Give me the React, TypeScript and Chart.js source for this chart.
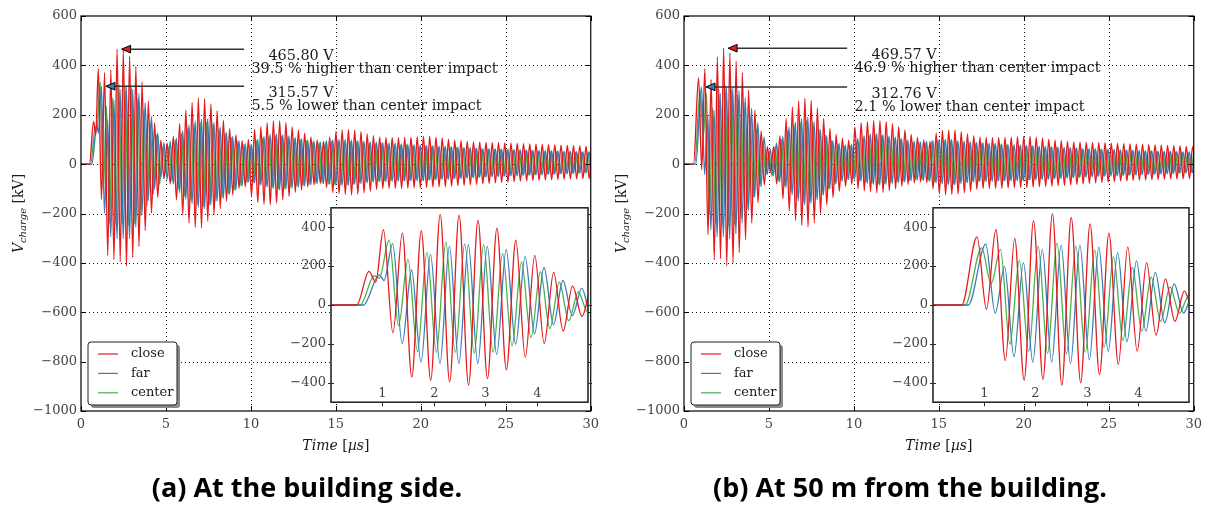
import React, { useEffect, useRef } from "react";
import { Chart, registerables } from "chart.js";
Chart.register(...registerables);

// ---------- axes / ticks ----------
const MAIN_X_TICKS = [0, 5, 10, 15, 20, 25, 30];
const MAIN_Y_TICKS = [-1000, -800, -600, -400, -200, 0, 200, 400, 600];
const INSET_X_TICKS = [1, 2, 3, 4];
const INSET_Y_TICKS = [-400, -200, 0, 200, 400];

const SERIES_LABELS = ["close", "far", "center"];
const SERIES_COLORS = ["#e41a1c", "#377eb8", "#4daf4a"];

// spacing between successive extrema (peak -> trough) in µs
const HALF = 0.184;

// ---------- panel (a): at the building side ----------
const closeA_pre = [[0, 0], [0.5, 0], [0.74, 173], [0.87, 118]];
const closeA_start = 1.02;
const closeA_ext = [387,-143,370,-370,381,-387,466,-395,462,-412,437,-378,395,-333,333,-269,255,-198,168,-134,97,-59,
  85,-80,112,-145,165,-205,218,-240,250,-256,267,-258,265,-232,245,-205,215,-180,178,-150,145,-125,118,-98,95,-92,100,-130,140,-155,152,-163,168,-165,176,-158,176,-145,168,-130,152,-114,138,-105,125,-92,110,-84,98,-78,92,-95,110,-115,132,-119,138,-122,140,-125];

const farA_pre = [[0, 0], [0.63, 0], [0.94, 155], [1.03, 126]];
const farA_start = 1.2;
const farA_ext = [316,-198,180,-294,260,-302,302,-302,311,-302,302,-255,286,-202,249,-148,193,-101,126,-54,87,
  -62,92,-80,105,-115,135,-142,160,-160,175,-174,182,-180,184,-166,170,-150,150,-138,128,-122,112,-105,95,-88,82,-72,80,-76,100,-85,112,-92,120,-98,122,-104,119,-102,115,-97,108,-93,103,-88,98,-84,94,-79,90,-79,94,-82,98,-85,100,-86,99,-85,97,-82];

const centerA_pre = [[0, 0], [0.57, 0], [0.84, 150], [0.94, 138]];
const centerA_start = 1.13;
const centerA_ext = [334,-106,235,-240,269,-244,323,-244,314,-249,311,-244,266,-210,222,-168,171,-121,118,-81,67,-37,
  72,-68,98,-100,125,-130,148,-150,162,-165,170,-172,172,-165,162,-150,145,-135,125,-120,108,-104,92,-88,80,-74,76,-74,95,-82,106,-90,113,-96,116,-100,114,-99,110,-95,104,-90,99,-86,94,-82,89,-78,86,-77,89,-80,93,-83,95,-84,95,-83,93,-80];

// ---------- panel (b): at 50 m from the building ----------
const closeB_pre = [[0, 0], [0.56, 0]];
const closeB_start = 0.86;
const closeB_ext = [350,-22,387,-286,343,-387,434,-383,470,-412,450,-400,417,-358,370,-306,299,-239,218,-156,134,-84,71,-34,
  70,-80,115,-140,185,-190,232,-228,256,-248,266,-254,258,-238,228,-200,185,-165,145,-135,120,-110,105,-90,97,-82,150,-100,168,-108,172,-112,176,-116,176,-114,172,-108,164,-100,152,-90,138,-82,120,-76,108,-72,98,-75,92,-100,125,-120,136,-124,138,-122];

const farB_pre = [[0, 0], [0.69, 0]];
const farB_start = 1.03;
const farB_ext = [313,-42,197,-266,218,-294,286,-294,308,-302,308,-282,297,-239,269,-188,227,-134,168,-92,109,-42,
  60,-45,85,-72,112,-95,150,-125,170,-150,184,-165,190,-160,172,-145,140,-125,115,-100,95,-80,84,-68,78,-62,80,-60,104,-70,115,-78,122,-82,124,-85,119,-82,114,-79,110,-75,104,-72,98,-68,93,-65,90,-66,92,-70,96,-76,100,-80,101,-83,100,-84];

const centerB_pre = [[0, 0], [0.63, 0]];
const centerB_start = 0.95;
const centerB_ext = [294,110,286,-202,230,-239,303,-249,320,-252,303,-244,282,-218,249,-182,193,-134,143,-84,92,-42,50,
  -50,72,-68,100,-88,135,-115,158,-138,172,-155,178,-154,170,-142,145,-122,118,-100,95,-82,82,-68,74,-60,74,-58,92,-66,106,-74,114,-78,117,-80,115,-79,110,-76,104,-72,99,-69,94,-66,89,-63,86,-63,87,-66,91,-72,95,-76,96,-79,95,-80];

// ---------- common tails (16 µs – 30 µs, nearly identical in both panels) ----------
const close_tail = [138,-121,131,-116,122,-110,115,-102,110,-99,108,-98,108,-98,108,-98,108,-97,109,-96,111,-95,113,-95,112,-93,109,-92,106,-91,101,-89,97,-87,95,-86,92,-84,90,-82,89,-80,88,-78,87,-76,87,-74,86,-73,85,-71,84,-69,83,-68,82,-66,81,-65,80,-64,79,-63,78,-62,77,-61,76,-60,75,-60,74,-59,72,-58,70,-57];
const far_tail = [95,-79,93,-76,90,-72,88,-71,87,-71,85,-70,84,-69,82,-68,81,-68,79,-67,77,-67,76,-65,75,-64,73,-62,72,-61,71,-59,70,-58,68,-57,67,-55,66,-54,64,-53,63,-51,62,-50,61,-49,60,-48,59,-47,58,-46,57,-45,56,-44,55,-43,54,-42,54,-41,53,-40,52,-39,52,-38,51,-37,50,-36,50,-35,49,-35];
const center_tail = [91,-76,89,-73,86,-70,84,-68,83,-68,81,-67,80,-66,78,-65,77,-65,75,-64,73,-64,72,-62,71,-61,70,-60,69,-58,68,-57,67,-56,65,-55,64,-53,63,-52,61,-51,60,-50,59,-48,58,-47,57,-46,56,-45,55,-44,54,-43,53,-42,52,-41,51,-40,51,-39,50,-38,49,-37,49,-36,48,-35,48,-34,47,-34,46,-33];

// ---------- annotations ----------
const ANN_A_CLOSE = ["465.80 V", "39.5 % higher than center impact"];
const ANN_A_FAR = ["315.57 V", "5.5 % lower than center impact"];
const ANN_A_VALUES = [465.8, 315.57];
const ANN_B_CLOSE = ["469.57 V", "46.9 % higher than center impact"];
const ANN_B_FAR = ["312.76 V", "2.1 % lower than center impact"];
const ANN_B_VALUES = [469.57, 312.76];
const ARROW_END_T = 9.6;
const TEXT1_T = 11.03;
const TEXT2_T = 10.03;

const CAPTION_A = "(a) At the building side.";
const CAPTION_B = "(b) At 50 m from the building.";

type Pt = { x: number; y: number };

function buildSeries(pre: number[][], start: number, ext: number[], tail: number[]): Pt[] {
  const pts: Pt[] = pre.map(([x, y]) => ({ x, y }));
  [...ext, ...tail].forEach((v, i) => pts.push({ x: start + i * HALF, y: v }));
  return pts;
}

const SERIF = '"DejaVu Serif", serif';

function fmtTick(v: number) {
  return v < 0 ? "\u2212" + Math.abs(v) : String(v);
}

function drawSegments(ctx: CanvasRenderingContext2D, segs: [string, string, number][], cx: number, y: number) {
  let total = 0;
  segs.forEach(([t, f]) => { ctx.font = f; total += ctx.measureText(t).width; });
  let x = cx - total / 2;
  segs.forEach(([t, f, dy]) => {
    ctx.font = f;
    ctx.fillText(t, x, y + dy);
    x += ctx.measureText(t).width;
  });
}

function maxPoint(pts: Pt[]): Pt {
  return pts.reduce((m, p) => (p.y > m.y ? p : m), pts[0]);
}

function makeDatasets(series: Pt[][], width: number) {
  return series.map((pts, i) => ({
    label: SERIES_LABELS[i],
    data: pts.map((p) => ({ x: p.x, y: p.y })),
    borderColor: SERIES_COLORS[i],
    backgroundColor: SERIES_COLORS[i],
    borderWidth: width,
    pointRadius: 0,
    cubicInterpolationMode: "monotone" as const,
    fill: false,
  }));
}

type PanelProps = {
  left: number;
  rightPad: number;
  insetLeft: number;
  insetRight: number;
  series: Pt[][];
  annClose: string[];
  annFar: string[];
  annValues: number[];
  caption: string;
  captionCenter: number;
};

function Panel(p: PanelProps) {
  const mainRef = useRef<HTMLCanvasElement>(null);
  const insetRef = useRef<HTMLCanvasElement>(null);
  const insetW = p.insetRight - p.insetLeft + 51 + 12;

  useEffect(() => {
    const closeMax = maxPoint(p.series[0]);
    const farMax = maxPoint(p.series[1]);

    const mainDecor = {
      id: "mainDecor",
      beforeDatasetsDraw(chart: any) {
        const { ctx, chartArea: a, scales } = chart;
        const x = scales.x, y = scales.y;
        ctx.save();
        ctx.strokeStyle = "#111";
        ctx.lineWidth = 1;
        ctx.setLineDash([1, 3]);
        MAIN_X_TICKS.forEach((v) => {
          if (v <= 0 || v >= 30) return;
          const px = Math.round(x.getPixelForValue(v)) + 0.5;
          ctx.beginPath(); ctx.moveTo(px, a.top); ctx.lineTo(px, a.bottom); ctx.stroke();
        });
        MAIN_Y_TICKS.forEach((v) => {
          if (v <= -1000 || v >= 600) return;
          const py = Math.round(y.getPixelForValue(v)) + 0.5;
          ctx.beginPath(); ctx.moveTo(a.left, py); ctx.lineTo(a.right, py); ctx.stroke();
        });
        ctx.restore();
      },
      afterDatasetsDraw(chart: any) {
        const { ctx, chartArea: a, scales } = chart;
        const x = scales.x, y = scales.y;
        ctx.save();
        // frame
        ctx.strokeStyle = "#000";
        ctx.lineWidth = 1.2;
        ctx.strokeRect(a.left, a.top, a.right - a.left, a.bottom - a.top);
        // inward ticks
        ctx.lineWidth = 1;
        MAIN_X_TICKS.forEach((v) => {
          const px = Math.round(x.getPixelForValue(v)) + 0.5;
          ctx.beginPath();
          ctx.moveTo(px, a.bottom); ctx.lineTo(px, a.bottom - 5);
          ctx.moveTo(px, a.top); ctx.lineTo(px, a.top + 5);
          ctx.stroke();
        });
        MAIN_Y_TICKS.forEach((v) => {
          const py = Math.round(y.getPixelForValue(v)) + 0.5;
          ctx.beginPath();
          ctx.moveTo(a.left, py); ctx.lineTo(a.left + 5, py);
          ctx.moveTo(a.right, py); ctx.lineTo(a.right - 5, py);
          ctx.stroke();
        });

        // annotations
        const arrow = (pt: Pt, val: number, color: string, lines: string[]) => {
          const tip = x.getPixelForValue(pt.x) + 4.5;
          const py = y.getPixelForValue(val);
          const ex = x.getPixelForValue(ARROW_END_T);
          ctx.strokeStyle = "#333";
          ctx.lineWidth = 1.5;
          ctx.beginPath(); ctx.moveTo(tip + 8, py); ctx.lineTo(ex, py); ctx.stroke();
          ctx.beginPath();
          ctx.moveTo(tip, py); ctx.lineTo(tip + 9, py - 3.8); ctx.lineTo(tip + 9, py + 3.8); ctx.closePath();
          ctx.fillStyle = color; ctx.fill();
          ctx.strokeStyle = "#000"; ctx.lineWidth = 1; ctx.stroke();
          ctx.fillStyle = "#1a1a1a";
          ctx.font = "14.4px " + SERIF;
          ctx.textAlign = "left";
          ctx.textBaseline = "alphabetic";
          ctx.fillText(lines[0], x.getPixelForValue(TEXT1_T), py + 11);
          ctx.fillText(lines[1], x.getPixelForValue(TEXT2_T), py + 24);
        };
        arrow(closeMax, p.annValues[0], SERIES_COLORS[0], p.annClose);
        arrow(farMax, p.annValues[1], SERIES_COLORS[1], p.annFar);

        // legend
        const lx = a.left + 7, ly = a.bottom - 69, lw = 89, lh = 63;
        ctx.fillStyle = "#8a8a8a";
        ctx.beginPath(); ctx.roundRect(lx + 3, ly + 3, lw, lh, 3); ctx.fill();
        ctx.fillStyle = "#ffffff";
        ctx.beginPath(); ctx.roundRect(lx, ly, lw, lh, 3); ctx.fill();
        ctx.strokeStyle = "#222"; ctx.lineWidth = 1; ctx.stroke();
        SERIES_LABELS.forEach((lab, i) => {
          const ry = ly + 12 + i * 19.4;
          ctx.strokeStyle = SERIES_COLORS[i];
          ctx.lineWidth = 1.2;
          ctx.beginPath(); ctx.moveTo(lx + 10, ry); ctx.lineTo(lx + 30, ry); ctx.stroke();
          ctx.fillStyle = "#1a1a1a";
          ctx.font = "13px " + SERIF;
          ctx.textAlign = "left";
          ctx.textBaseline = "middle";
          ctx.fillText(lab, lx + 43, ry);
        });

        // axis titles
        ctx.fillStyle = "#1a1a1a";
        ctx.textAlign = "left";
        ctx.textBaseline = "alphabetic";
        drawSegments(ctx, [["Time", "italic 14px " + SERIF, 0], [" [", "14px " + SERIF, 0], ["\u00b5s", "italic 14px " + SERIF, 0], ["]", "14px " + SERIF, 0]], (a.left + a.right) / 2, 450);
        ctx.save();
        ctx.translate(23, (a.top + a.bottom) / 2);
        ctx.rotate(-Math.PI / 2);
        drawSegments(ctx, [["V", "italic 14px " + SERIF, 0], ["charge", "italic 10px " + SERIF, 3], [" [kV]", "14px " + SERIF, 0]], 0, 0);
        ctx.restore();
        ctx.restore();
      },
    };

    const main = new Chart(mainRef.current as HTMLCanvasElement, {
      type: "line",
      data: { datasets: makeDatasets(p.series, 1.4) as any },
      options: {
        animation: false,
        responsive: false,
        devicePixelRatio: 1,
        events: [],
        layout: { padding: { left: 0, top: 16, right: p.rightPad, bottom: 0 } },
        plugins: { legend: { display: false }, tooltip: { enabled: false } },
        scales: {
          x: {
            type: "linear", min: 0, max: 30,
            afterBuildTicks: (s: any) => { s.ticks = MAIN_X_TICKS.map((v) => ({ value: v })); },
            afterFit: (s: any) => { s.height = 59; },
            grid: { display: false, drawTicks: false }, border: { display: false },
            ticks: { font: { family: SERIF, size: 13 }, color: "#444", padding: 6, maxRotation: 0, autoSkip: false, callback: (v: any) => fmtTick(v) },
          },
          y: {
            type: "linear", min: -1000, max: 600,
            afterBuildTicks: (s: any) => { s.ticks = MAIN_Y_TICKS.map((v) => ({ value: v })); },
            afterFit: (s: any) => { s.width = 81; },
            grid: { display: false, drawTicks: false }, border: { display: false },
            ticks: { font: { family: SERIF, size: 13 }, color: "#444", padding: 4, autoSkip: false, callback: (v: any) => fmtTick(v) },
          },
        },
      } as any,
      plugins: [mainDecor],
    });

    const insetDecor = {
      id: "insetDecor",
      beforeDraw(chart: any) {
        const { ctx, chartArea: a } = chart;
        ctx.save();
        ctx.fillStyle = "#fff";
        ctx.fillRect(a.left, a.top, a.right - a.left, a.bottom - a.top);
        ctx.restore();
      },
      afterDatasetsDraw(chart: any) {
        const { ctx, chartArea: a, scales } = chart;
        const x = scales.x, y = scales.y;
        ctx.save();
        ctx.strokeStyle = "#2a2a2a";
        ctx.lineWidth = 1.6;
        ctx.strokeRect(a.left, a.top, a.right - a.left, a.bottom - a.top);
        ctx.lineWidth = 1;
        INSET_Y_TICKS.forEach((v) => {
          const py = Math.round(y.getPixelForValue(v)) + 0.5;
          ctx.beginPath();
          ctx.moveTo(a.left - 3, py); ctx.lineTo(a.left + 3, py);
          ctx.moveTo(a.right, py); ctx.lineTo(a.right + 4, py);
          ctx.stroke();
        });
        ctx.fillStyle = "#444";
        ctx.font = "13px " + SERIF;
        ctx.textAlign = "center";
        ctx.textBaseline = "alphabetic";
        INSET_X_TICKS.forEach((v) => {
          const px = Math.round(x.getPixelForValue(v)) + 0.5;
          ctx.beginPath(); ctx.moveTo(px, a.bottom); ctx.lineTo(px, a.bottom + 4); ctx.stroke();
          ctx.fillText(String(v), px, a.bottom - 5);
        });
        ctx.restore();
      },
    };

    const inset = new Chart(insetRef.current as HTMLCanvasElement, {
      type: "line",
      data: { datasets: makeDatasets(p.series, 1.3) as any },
      options: {
        animation: false,
        responsive: false,
        devicePixelRatio: 1,
        events: [],
        layout: { padding: { left: 0, top: 12, right: 12, bottom: 10 } },
        plugins: { legend: { display: false }, tooltip: { enabled: false } },
        scales: {
          x: { type: "linear", min: 0, max: 5, display: false },
          y: {
            type: "linear", min: -500, max: 500,
            afterBuildTicks: (s: any) => { s.ticks = INSET_Y_TICKS.map((v) => ({ value: v })); },
            afterFit: (s: any) => { s.width = 51; },
            grid: { display: false, drawTicks: false }, border: { display: false },
            ticks: { font: { family: SERIF, size: 13 }, color: "#444", padding: 5, autoSkip: false, callback: (v: any) => fmtTick(v) },
          },
        },
      } as any,
      plugins: [insetDecor],
    });

    return () => {
      main.destroy();
      inset.destroy();
    };
  }, []);

  return (
    <>
      <canvas ref={mainRef} width={605} height={470} style={{ position: "absolute", left: p.left, top: 0 }} />
      <canvas ref={insetRef} width={insetW} height={220} style={{ position: "absolute", left: p.insetLeft - 51, top: 195 }} />
      <div
        style={{
          position: "absolute", left: p.captionCenter - 300, width: 600, top: 468, textAlign: "center",
          fontFamily: '"Open Sans", sans-serif', fontWeight: 700, fontSize: 27, lineHeight: "37px", color: "#000", whiteSpace: "nowrap",
        }}
      >
        {p.caption}
      </div>
    </>
  );
}

export default function App() {
  const seriesA = [
    buildSeries(closeA_pre, closeA_start, closeA_ext, close_tail),
    buildSeries(farA_pre, farA_start, farA_ext, far_tail),
    buildSeries(centerA_pre, centerA_start, centerA_ext, center_tail),
  ];
  const seriesB = [
    buildSeries(closeB_pre, closeB_start, closeB_ext, close_tail),
    buildSeries(farB_pre, farB_start, farB_ext, far_tail),
    buildSeries(centerB_pre, centerB_start, centerB_ext, center_tail),
  ];
  return (
    <div style={{ position: "absolute", left: 0, top: 0, width: 1209, height: 507, background: "#fff", overflow: "hidden" }}>
      <Panel left={0} rightPad={12} insetLeft={331} insetRight={588} series={seriesA}
        annClose={ANN_A_CLOSE} annFar={ANN_A_FAR} annValues={ANN_A_VALUES} caption={CAPTION_A} captionCenter={307} />
      <Panel left={603} rightPad={14} insetLeft={933} insetRight={1189} series={seriesB}
        annClose={ANN_B_CLOSE} annFar={ANN_B_FAR} annValues={ANN_B_VALUES} caption={CAPTION_B} captionCenter={910} />
    </div>
  );
}
